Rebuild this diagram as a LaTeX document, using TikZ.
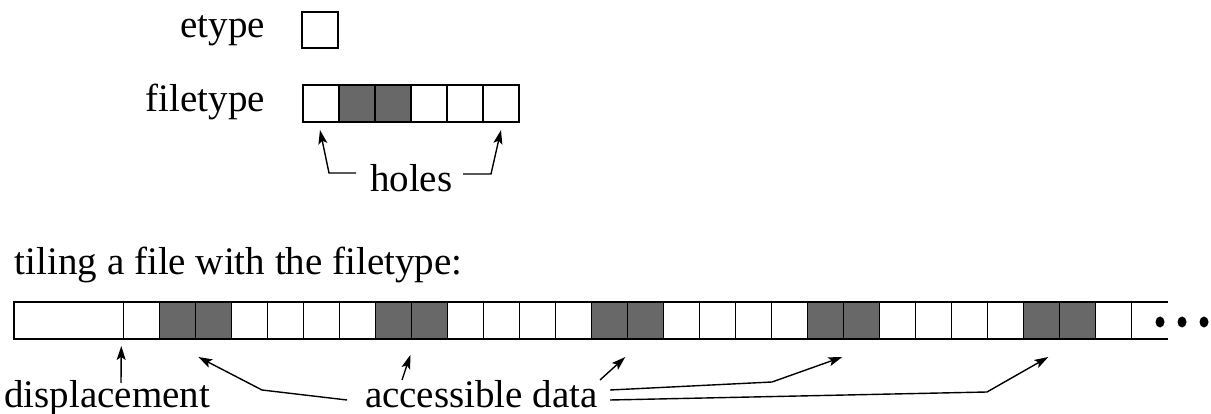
\documentclass[tikz,border=0pt]{standalone}
\usepackage{fontspec}
\setmainfont{Liberation Serif}
\usetikzlibrary{arrows.meta}
\definecolor{darkcell}{RGB}{104,104,104}
\tikzset{
  cell/.style={draw=black, line width=1.6pt, minimum width=36pt, minimum height=37pt, inner sep=0pt, outer sep=0pt},
  lbl/.style={inner sep=0pt, outer sep=0pt, font=\fontsize{39}{47}\selectfont},
  arr/.style={line width=1.4pt, -{Stealth[length=14pt,width=9pt,inset=3pt]}},
  edge line/.style={line width=1.6pt},
}
\begin{document}
\begin{tikzpicture}[x=1pt,y=-1pt]
\useasboundingbox (0,0) rectangle (1211,414);
% top part
\node[lbl, anchor=base east] (etl) at (265,38) {etype};
\node[cell, minimum height=36pt, fill=white] (e) at (320,30) {};
\node[lbl, anchor=base east] (ftl) at (265,112) {filetype};
\foreach \i/\c in {0/white,1/darkcell,2/darkcell,3/white,4/white,5/white}
  \node[cell, fill=\c] (f\i) at (321+36*\i,103.5) {};
\node[lbl, anchor=base west] (holes) at (370,192) {holes};
\coordinate (hl1) at (356,173);
\coordinate (hl2) at (329,173);
\coordinate (hr1) at (463,174);
\coordinate (hr2) at (491,174);
\draw[arr] (hl1) -- (hl2) -- ([xshift=-1pt,yshift=-8pt]f0.south);
\draw[arr] (hr1) -- (hr2) -- ([yshift=-8pt]f5.south);
% bottom part
\node[lbl, anchor=base west] (tiling) at (15,275) {tiling a file with the filetype:};
\node[cell, minimum width=109.3pt, fill=white] (disp) at (68.65,320.5) {};
\foreach \t in {0,...,4}
  \foreach \j/\c in {0/white,1/darkcell,2/darkcell,3/white,4/white,5/white} {
    \pgfmathtruncatemacro\k{6*\t+\j}
    \ifnum\k<28
      \node[cell, fill=\c] (c\k) at (141.3+36*\k,320.5) {};
    \fi
  }
\draw[edge line] (c27.north east) -- ++(37,0);
\draw[edge line] (c27.south east) -- ++(37,0);
\foreach \x in {1160,1182,1204}
  \fill (\x,322) ellipse [x radius=4.5pt, y radius=5.5pt];
\node[lbl, anchor=base east] (displ) at (210,407) {displacement};
\node[lbl, anchor=base west, text depth=0pt] (acc) at (365,407) {accessible data};
% displacement arrow
\coordinate (d1) at (121,383);
\draw[arr] (d1) -- ([xshift=-2pt,yshift=-7pt]disp.south east);
% accessible data arrows
\coordinate (a1) at (347,400);
\coordinate (a1b) at (262,390);
\draw[arr] (a1) -- (a1b) -- ([xshift=3pt,yshift=-18pt]c1.south east);
\coordinate (a2) at (402,380);
\draw[arr] (a2) -- ([xshift=-1pt,yshift=-16pt]c7.south east);
\coordinate (a3) at (600,380);
\draw[arr] (a3) -- ([xshift=-2pt,yshift=-18pt]c13.south east);
\coordinate (a4) at (610,390);
\coordinate (a4b) at (772,382);
\draw[arr] (a4) -- (a4b) -- ([xshift=-1pt,yshift=-18pt]c19.south east);
\coordinate (a5) at (610,400);
\coordinate (a5b) at (987,392);
\draw[arr] (a5) -- (a5b) -- ([xshift=-11pt,yshift=-18pt]c25.south east);
\end{tikzpicture}
\end{document}
